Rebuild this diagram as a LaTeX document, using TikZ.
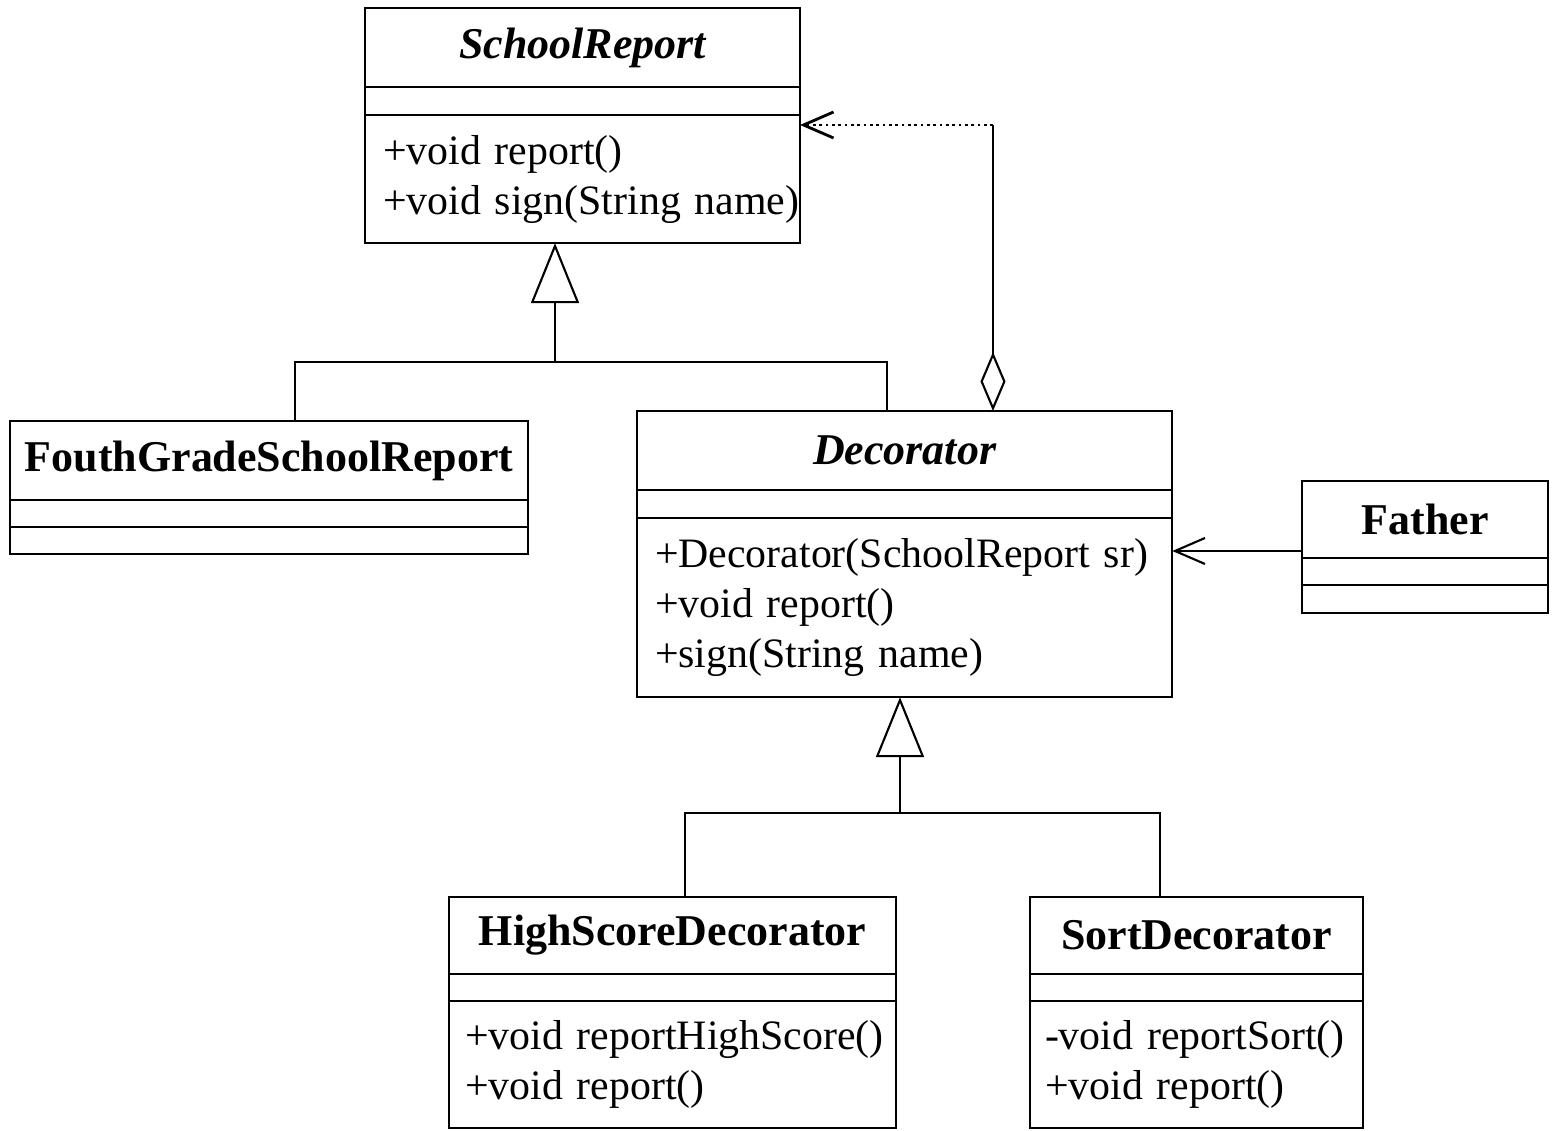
\documentclass[tikz,border=0pt]{standalone}
\usepackage{fontspec}
\setmainfont{Liberation Serif}
\usetikzlibrary{positioning,arrows.meta}

\newcommand{\oplist}[1]{\begin{tabular}{@{}l@{}}#1\end{tabular}}

\begin{document}
\begin{tikzpicture}[x=0.01cm, y=-0.01cm, line width=0.6pt,
  classtitle/.style={draw, inner sep=0pt, outer sep=0pt, minimum height=0.79cm, font=\fontsize{12.5}{15}\selectfont\bfseries},
  abstract/.style={font=\fontsize{12.5}{15}\selectfont\bfseries\itshape},
  classslot/.style={draw, inner sep=0pt, outer sep=0pt, minimum height=0.28cm},
  classops/.style={draw, inner xsep=0.18cm, inner ysep=0pt, outer sep=0pt, align=left, font=\fontsize{11.9}{14.2}\selectfont},
  inherit/.style={-{Triangle[open, length=0.6cm, width=0.48cm]}},
  assoc/.style={-{Straight Barb[length=0.3cm, width=0.26cm]}},
  aggr/.style={{Diamond[open, length=0.59cm, width=0.25cm]}-}]

    \useasboundingbox (0,0) rectangle (1553,1131);

    % SchoolReport
    \node[classtitle, abstract, minimum width=4.35cm, anchor=north west] (sr) at (365,8) {SchoolReport};
    \node[classslot, minimum width=4.35cm, below=0pt of sr] (sr-attr) {};
    \node[classops, text width=3.99cm, minimum height=1.28cm, below=0pt of sr-attr] (sr-ops) {\oplist{+void report()\\+void sign(String name)}};

    % FouthGradeSchoolReport
    \node[classtitle, minimum width=5.18cm, anchor=north west] (fg) at (10,421) {FouthGradeSchoolReport};
    \node[classslot, minimum width=5.18cm, minimum height=0.27cm, below=0pt of fg] (fg-attr) {};
    \node[classslot, minimum width=5.18cm, minimum height=0.27cm, below=0pt of fg-attr] (fg-ops) {};

    % Decorator
    \node[classtitle, abstract, minimum width=5.35cm, anchor=north west] (dec) at (637,411) {Decorator};
    \node[classslot, minimum width=5.35cm, below=0pt of dec] (dec-attr) {};
    \node[classops, text width=4.99cm, minimum height=1.79cm, below=0pt of dec-attr] (dec-ops) {\oplist{+Decorator(SchoolReport sr)\\+void report()\\+sign(String name)}};

    % Father
    \node[classtitle, minimum width=2.46cm, minimum height=0.77cm, anchor=north west] (fa) at (1302,481) {Father};
    \node[classslot, minimum width=2.46cm, minimum height=0.27cm, below=0pt of fa] (fa-attr) {};
    \node[classslot, minimum width=2.46cm, below=0pt of fa-attr] (fa-ops) {};

    % HighScoreDecorator
    \node[classtitle, minimum width=4.47cm, minimum height=0.77cm, anchor=north west] (hs) at (449,897) {HighScoreDecorator};
    \node[classslot, minimum width=4.47cm, minimum height=0.27cm, below=0pt of hs] (hs-attr) {};
    \node[classops, text width=4.15cm, inner xsep=0.16cm, minimum height=1.27cm, below=0pt of hs-attr] (hs-ops) {\oplist{+void reportHighScore()\\+void report()}};

    % SortDecorator
    \node[classtitle, minimum width=3.33cm, minimum height=0.77cm, anchor=north west] (sd) at (1030,897) {SortDecorator};
    \node[classslot, minimum width=3.33cm, minimum height=0.27cm, below=0pt of sd] (sd-attr) {};
    \node[classops, text width=3.03cm, inner xsep=0.15cm, minimum height=1.27cm, below=0pt of sd-attr] (sd-ops) {\oplist{-void reportSort()\\+void report()}};

    % generalisation to SchoolReport
    \coordinate (j1) at (555,362);
    \coordinate (fgtop) at (295,421);
    \coordinate (dectop) at (887,411);
    \draw[inherit] (j1) -- (j1 |- sr-ops.south);
    \draw (fgtop) |- (j1) -| (dectop);

    % generalisation to Decorator
    \coordinate (j2) at (900,813);
    \coordinate (hstop) at (685,897);
    \coordinate (sdtop) at (1160,897);
    \draw[inherit] (j2) -- (j2 |- dec-ops.south);
    \draw (hstop) |- (j2) -| (sdtop);

    % Decorator holds a SchoolReport
    \coordinate (agg) at (993,411);
    \coordinate (srin) at (800,125);
    \draw[aggr] (agg) -- (agg |- srin) coordinate (bend);
    \draw[assoc, densely dotted, line width=0.8pt] (bend) -- (srin);

    % Father uses Decorator
    \coordinate (fain) at (1302,551);
    \draw[assoc] (fain) -- (fain -| dec-ops.east);

\end{tikzpicture}
\end{document}
